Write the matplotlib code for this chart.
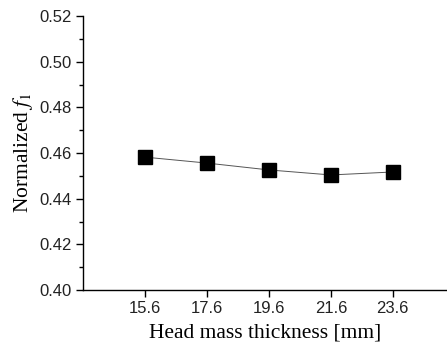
import matplotlib
matplotlib.use('Agg')
import matplotlib.pyplot as plt
from matplotlib.ticker import MultipleLocator

thickness = [15.6, 17.6, 19.6, 21.6, 23.6]
f1_norm = [0.4582, 0.4556, 0.4526, 0.4504, 0.4517]
xticks = [15.6, 17.6, 19.6, 21.6, 23.6]

plt.rcParams['mathtext.fontset'] = 'stix'

fig = plt.figure(figsize=(4.47, 3.49), dpi=100)
ax = fig.add_axes([0.186, 0.169, 0.814, 0.785])

ax.plot(thickness, f1_norm, color='#555555', linewidth=0.7, zorder=1)
ax.plot(thickness, f1_norm, 's', color='black', markersize=10, zorder=2)

ax.set_xlim(13.6, 25.35)
ax.set_ylim(0.40, 0.52)
ax.set_xticks(xticks)
ax.set_xticklabels([f'{v:.1f}' for v in xticks])
ax.yaxis.set_major_locator(MultipleLocator(0.02))
ax.yaxis.set_minor_locator(MultipleLocator(0.01))
ax.yaxis.set_major_formatter(matplotlib.ticker.FormatStrFormatter('%.2f'))

ax.spines['right'].set_visible(False)
ax.spines['top'].set_visible(False)
ax.spines['left'].set_linewidth(1.0)
ax.spines['bottom'].set_linewidth(1.0)
ax.tick_params(which='major', direction='out', length=5, width=1, labelsize=12, pad=3)
ax.tick_params(which='minor', direction='out', length=3, width=1)
for lab in ax.get_xticklabels() + ax.get_yticklabels():
    lab.set_fontfamily('Liberation Sans')
    lab.set_color('#222222')

ax.set_xlabel('Head mass thickness [mm]', fontfamily='Liberation Serif', fontsize=15.5, labelpad=5)
ax.set_ylabel(r'Normalized $f_{\mathrm{1}}$', fontfamily='Liberation Serif', fontsize=15.5, labelpad=3)

fig.savefig('out.png', dpi=100)
